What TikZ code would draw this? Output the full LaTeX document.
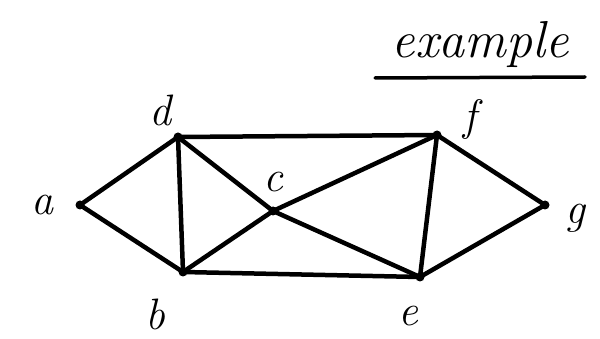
\documentclass[tikz,border=0pt]{standalone}
\begin{document}
\begin{tikzpicture}[x=1pt,y=-1pt,
  vtx/.style={circle,fill=black,inner sep=0pt,minimum size=9pt},
  lbl/.style={font=\fontsize{44}{46}\selectfont\itshape,inner sep=0pt},
  edge/.style={line width=4.5pt,line cap=round}]
\useasboundingbox (0,0) rectangle (600,339);
\node[vtx] (a) at (80,205) {};
\node[vtx] (d) at (178,137) {};
\node[vtx] (b) at (183,272) {};
\node[vtx] (c) at (273,211) {};
\node[vtx] (f) at (437,135) {};
\node[vtx] (e) at (420,277) {};
\node[vtx] (g) at (545,205) {};
\node[lbl] (la) at (42,205) {a};
\node[lbl] (ld) at (160,110) {d};
\node[lbl] (lb) at (155,314) {b};
\node[lbl] (lc) at (273,182) {c};
\node[lbl] (lf) at (470,120) {f};
\node[lbl] (le) at (408,316) {e};
\node[lbl] (lg) at (575,218) {g};
\node[font=\fontsize{52}{54}\selectfont\itshape,inner sep=0pt] (title) at (480,45) {example};
\coordinate (u1) at (375,78);
\coordinate (u2) at (585,77);
\draw[line width=3.5pt,line cap=round] (u1) -- (u2);
\foreach \s/\t in {a/d,a/b,d/b,d/f,d/c,c/e,b/c,b/e,c/f,f/e,f/g,e/g}
  \draw[edge] (\s.center) -- (\t.center);
\end{tikzpicture}
\end{document}
